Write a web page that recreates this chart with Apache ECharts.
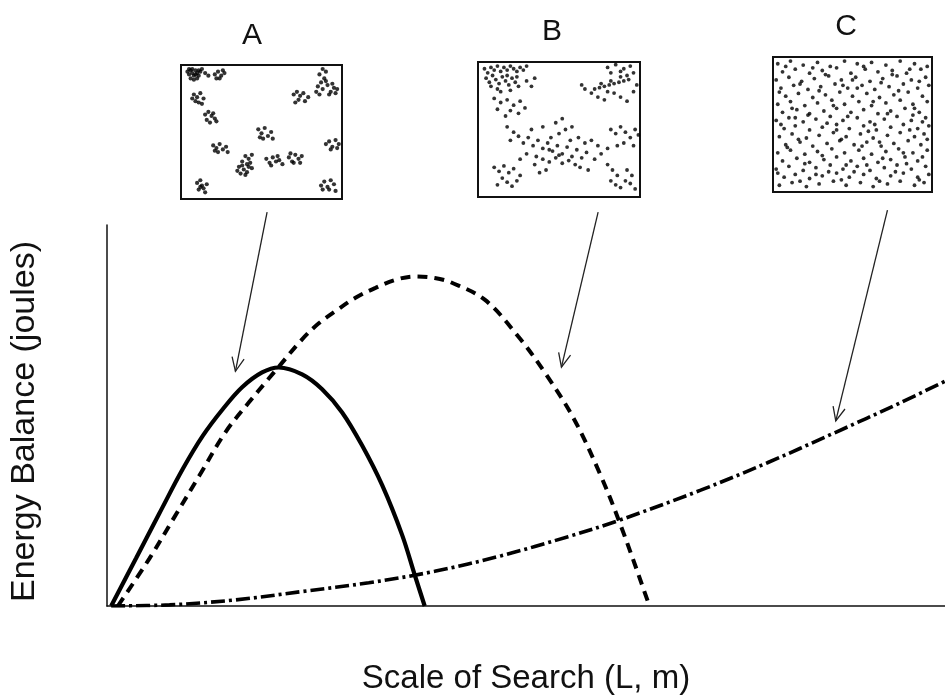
<!DOCTYPE html>
<html>
<head>
<meta charset="utf-8">
<script src="https://cdn.jsdelivr.net/npm/echarts@6/dist/echarts.min.js"></script>
<style>html,body{margin:0;padding:0;background:#fff;}#chart{width:945px;height:700px;}</style>
</head>
<body>
<div id="chart"></div>
<script>
// ---- Data (arbitrary units, no tick labels) ----
const xAxisTitle = 'Scale of Search (L, m)';
const yAxisTitle = 'Energy Balance (joules)';
const insetLabels = ['A', 'B', 'C'];

// Curve A (solid), clumped prey
const curveA = [[0,0],[3.0,12.6],[5.8,24.4],[8.6,36.0],[11.0,44.7],[13.4,51.7],[15.7,57.4],[18.1,61.3],[20.1,62.6],[22.9,60.8],[25.3,56.9],[27.7,50.8],[30.1,42.1],[32.5,31.7],[34.9,18.6],[36.4,8.2],[37.6,0]];
// Curve B (dashed), intermediate dispersion
const curveB = [[0.8,0],[4.6,12.5],[7.6,23.4],[10.6,34.3],[13.7,45.6],[16.5,53.4],[18.9,59.7],[20.1,62.8],[22.9,70.0],[24.9,74.2],[26.9,77.4],[29.3,80.9],[31.7,83.5],[34.1,85.6],[36.4,86.5],[38.8,86.1],[40.8,84.9],[44.8,80.4],[48.8,70.8],[52.0,61.3],[55.5,49.1],[58.7,34.3],[61.1,21.2],[64.3,1.6],[64.5,0]];
// Curve C (dash-dot), random prey
const curveC = [[0,0],[7,0.3],[14.9,1.6],[22.9,3.8],[30.9,6.1],[38.8,9.1],[46.8,13.2],[54.8,18.2],[60.8,22.4],[70.7,30.4],[78.7,37.6],[86.6,45.3],[94.6,53.3],[100,59.0]];

// Arrows: [tail, tip] in main-plot data units
const arrowA = [[18.7,103.4],[14.9,61.6]];
const arrowB = [[58.4,103.4],[54.0,62.7]];
const arrowC = [[93.1,103.9],[86.9,48.6]];

// Inset point patterns (0-100 box units)
const dotsA = [[4,95],[5,93],[6,96],[7,94],[8,92],[6,90],[9,96],[10,94],[11,92],[12,95],[13,97],[8,89],[10,90],[5,97],[7,97],[9,93],[11,96],[15,94],[17,92],
[21,93],[23,95],[25,92],[27,94],[24,90],[26,96],[22,90],
[8,78],[10,76],[12,79],[9,73],[11,72],[14,75],[13,71],[7,75],
[15,63],[17,65],[19,62],[16,59],[18,57],[21,60],[20,64],[22,58],
[48,52],[50,49],[52,53],[54,47],[51,45],[56,50],[49,46],[57,45],
[20,40],[22,38],[24,41],[23,35],[26,37],[28,39],[29,35],[21,36],
[40,32],[42,30],[44,33],[38,28],[41,26],[43,27],[36,24],[39,22],[41,20],[37,19],[44,23],[40,18],[35,21],[42,24],[38,25],
[53,30],[55,27],[57,31],[59,28],[61,29],[63,26],[56,25],[60,32],
[67,31],[69,28],[71,33],[73,30],[75,32],[70,27],[74,27],[68,34],
[10,12],[12,14],[13,10],[14,8],[16,11],[11,7],[15,5],[12,9],
[88,97],[90,95],[86,93],[89,90],[87,87],[85,84],[88,82],[91,85],[93,80],[95,83],[96,79],[92,78],[84,80],[90,88],[94,86],[86,78],[97,82],
[70,78],[72,80],[74,77],[76,79],[73,74],[71,72],[77,73],[79,76],
[90,41],[92,43],[94,39],[96,44],[98,41],[97,38],[93,37],
[87,10],[89,13],[91,9],[93,14],[95,11],[92,7],[96,6],[88,7]];

const dotsB = [[4,95],[6,92],[8,96],[10,94],[12,97],[14,93],[16,96],[18,94],[20,97],[22,95],[24,93],[26,96],[28,94],[30,97],[5,88],[7,85],[9,90],[11,87],[13,84],[15,89],[17,86],[19,83],[21,88],[23,85],[25,82],[12,80],[14,78],[20,79],[30,86],[35,88],[8,82],[18,90],[24,89],[33,82],
[10,73],[14,70],[18,72],[22,68],[26,71],[20,64],[25,62],[17,60],[29,66],[12,65],
[72,80],[75,81],[78,82],[81,83],[84,84],[87,85],[90,86],[93,87],[76,84],[82,86],[88,89],[70,77],[66,80],[64,83],[80,96],[85,98],[90,95],[94,97],[96,92],[82,92],[88,93],[92,90],[74,74],[78,72],[84,77],[88,74],[92,71],[96,78],[98,83],[80,78],
[18,52],[22,48],[20,42],[25,45],[28,40],[31,44],[34,38],[37,42],[40,36],[43,40],[46,34],[49,38],[52,32],[55,37],[58,30],[61,35],[64,29],[67,33],[36,30],[40,28],[44,26],[48,29],[52,25],[56,27],[60,24],[45,44],[50,47],[54,50],[48,55],[52,58],[58,52],[62,44],[66,40],[70,42],[74,38],[35,24],[30,32],[26,28],[42,20],[38,18],[63,22],[68,20],[72,28],[76,32],[80,36],[33,50],[40,52],[57,42],[44,35],[50,31],
[82,50],[85,47],[88,52],[91,48],[94,44],[97,50],[99,46],[90,40],[86,38],[96,38],
[10,22],[13,19],[16,23],[19,18],[22,21],[15,14],[18,11],[21,8],[24,12],[12,9],[26,16],
[80,24],[83,20],[86,16],[82,12],[85,9],[88,7],[91,12],[94,10],[97,6],[92,20],[95,16]];

const dotsC = [[3,95],[11,97],[19,94],[28,96],[36,93],[45,97],[53,95],[62,96],[71,94],[80,97],[89,95],[97,93],
[6,89],[14,91],[23,88],[31,90],[40,92],[49,88],[58,91],[66,89],[75,90],[84,88],[93,91],
[2,83],[10,85],[18,82],[26,84],[35,86],[43,83],[52,85],[61,82],[69,84],[78,86],[87,83],[96,85],
[5,77],[13,79],[22,76],[30,78],[39,80],[47,77],[56,79],[64,76],[73,78],[82,80],[91,77],[98,79],
[8,71],[16,73],[25,70],[33,72],[42,74],[50,71],[59,73],[67,70],[76,72],[85,74],[94,71],
[3,65],[11,67],[20,64],[28,66],[37,68],[45,65],[54,67],[62,64],[71,66],[80,68],[88,65],[97,67],
[6,59],[15,61],[23,58],[32,60],[40,62],[49,59],[57,61],[66,58],[74,60],[83,62],[92,59],
[2,53],[10,55],[19,52],[27,54],[36,56],[44,53],[53,55],[61,52],[70,54],[78,56],[87,53],[96,55],
[7,47],[14,49],[23,46],[31,48],[40,50],[48,47],[57,49],[65,46],[74,48],[82,50],[91,47],[98,49],
[4,41],[12,43],[21,40],[29,42],[38,44],[46,41],[55,43],[63,40],[72,42],[80,44],[89,41],[95,43],
[8,35],[17,37],[25,34],[34,36],[42,38],[51,35],[59,37],[68,34],[76,36],[85,38],[93,35],
[3,29],[11,31],[20,28],[28,30],[37,32],[45,29],[54,31],[62,28],[71,30],[79,32],[88,29],[97,31],
[6,23],[15,25],[23,22],[32,24],[40,26],[49,23],[57,25],[66,22],[74,24],[83,26],[91,23],
[2,17],[10,19],[19,16],[27,18],[36,20],[44,17],[53,19],[61,16],[70,18],[78,20],[87,17],[96,19],
[7,11],[14,13],[23,10],[31,12],[40,14],[48,11],[57,13],[65,10],[74,12],[82,14],[91,11],[98,13],
[4,5],[12,7],[21,4],[29,6],[38,8],[46,5],[55,7],[63,4],[72,6],[80,8],[89,5],[95,7],
[8,93],[33,87],[57,93],[86,91],[17,80],[44,79],[68,81],[92,82],[4,74],[29,75],[53,77],[79,75],[12,62],[38,64],[63,67],[89,62],[22,57],[47,56],[72,58],[94,52],[5,50],[34,51],[60,45],[86,46],[16,39],[43,39],[67,37],[97,39],[9,33],[31,27],[56,34],[82,29],[20,21],[46,20],[69,25],[94,26],[3,14],[27,13],[51,15],[77,15],[17,8],[43,9],[67,8],[92,9],[25,92],[50,83],[75,87],[14,55],[40,46],[64,50],[88,57],[35,15],[59,20],[84,21]];

// ---- Chart ----
const FONT = '"Liberation Sans", Arial, Helvetica, sans-serif';
const chart = echarts.init(document.getElementById('chart'), null, {renderer: 'canvas'});

const insetGrids = [
  {left: 181, top: 65, width: 161, height: 134},
  {left: 478, top: 62, width: 162, height: 135},
  {left: 773, top: 57, width: 159, height: 135}
];
const insetDots = [dotsA, dotsB, dotsC];
const insetDotSize = [4.2, 3.8, 3.8];

const grids = [{left: 104, right: 0, top: 225, bottom: 92}];
const xAxes = [{
  type: 'value', min: -0.5, max: 100, gridIndex: 0,
  axisLine: {show: true, onZero: false, lineStyle: {color: '#111', width: 1.5}},
  axisTick: {show: false}, axisLabel: {show: false}, splitLine: {show: false},
  name: xAxisTitle, nameLocation: 'middle', nameGap: 56,
  nameTextStyle: {fontFamily: FONT, fontSize: 33, color: '#111'}
}];
const yAxes = [{
  type: 'value', min: 0, max: 100, gridIndex: 0,
  axisLine: {show: true, onZero: false, lineStyle: {color: '#111', width: 1.5}},
  axisTick: {show: false}, axisLabel: {show: false}, splitLine: {show: false},
  name: yAxisTitle, nameLocation: 'middle', nameGap: 65, nameRotate: 90,
  nameTextStyle: {fontFamily: FONT, fontSize: 34, color: '#111', padding: [0, 12, 0, 0]}
}];
const series = [
  {type: 'line', xAxisIndex: 0, yAxisIndex: 0, data: curveA, smooth: 0.35, showSymbol: false,
   lineStyle: {color: '#000', width: 4.2, type: 'solid'}, z: 3},
  {type: 'line', xAxisIndex: 0, yAxisIndex: 0, data: curveB, smooth: 0.35, showSymbol: false,
   lineStyle: {color: '#000', width: 4, type: [10, 7]}, z: 3},
  {type: 'line', xAxisIndex: 0, yAxisIndex: 0, data: curveC, smooth: 0.35, showSymbol: false,
   lineStyle: {color: '#000', width: 3.6, type: [14, 4, 3, 4]}, z: 3}
];

insetGrids.forEach((g, i) => {
  grids.push(Object.assign({show: true, borderColor: '#111', borderWidth: 2, backgroundColor: '#fff'}, g));
  const idx = i + 1;
  xAxes.push({type: 'value', gridIndex: idx, min: 0, max: 100, show: false});
  yAxes.push({type: 'value', gridIndex: idx, min: 0, max: 100, show: false});
  series.push({type: 'scatter', xAxisIndex: idx, yAxisIndex: idx, data: insetDots[i],
    symbol: 'circle', symbolSize: insetDotSize[i], itemStyle: {color: '#000'}, silent: true});
});

chart.setOption({
  backgroundColor: '#fff',
  animation: false,
  grid: grids, xAxis: xAxes, yAxis: yAxes, series: series
});

// labels above insets and arrows pointing to curves
const labelPos = [[252, 36], [552, 32], [846, 27]];
const graphics = insetLabels.map((t, i) => ({
  type: 'text', x: labelPos[i][0], y: labelPos[i][1],
  style: {text: t, font: '30px ' + FONT, fill: '#111', align: 'center', verticalAlign: 'middle',
          textAlign: 'center', textVerticalAlign: 'middle'}
}));
[arrowA, arrowB, arrowC].forEach(a => {
  const p0 = chart.convertToPixel({gridIndex: 0}, a[0]);
  const p1 = chart.convertToPixel({gridIndex: 0}, a[1]);
  const dx = p0[0] - p1[0], dy = p0[1] - p1[1];
  const len = Math.sqrt(dx * dx + dy * dy);
  const ux = dx / len, uy = dy / len;
  const L = 15, ang = 0.42;
  const rot = (s) => [p1[0] + L * (ux * Math.cos(s) - uy * Math.sin(s)), p1[1] + L * (ux * Math.sin(s) + uy * Math.cos(s))];
  const h1 = rot(ang), h2 = rot(-ang);
  graphics.push({type: 'line', shape: {x1: p0[0], y1: p0[1], x2: p1[0], y2: p1[1]},
    style: {stroke: '#222', lineWidth: 1.3}, z: 10});
  graphics.push({type: 'polyline', shape: {points: [h1, p1, h2]},
    style: {stroke: '#222', lineWidth: 1.3, fill: null}, z: 10});
});
chart.setOption({graphic: graphics});
</script>
</body>
</html>
